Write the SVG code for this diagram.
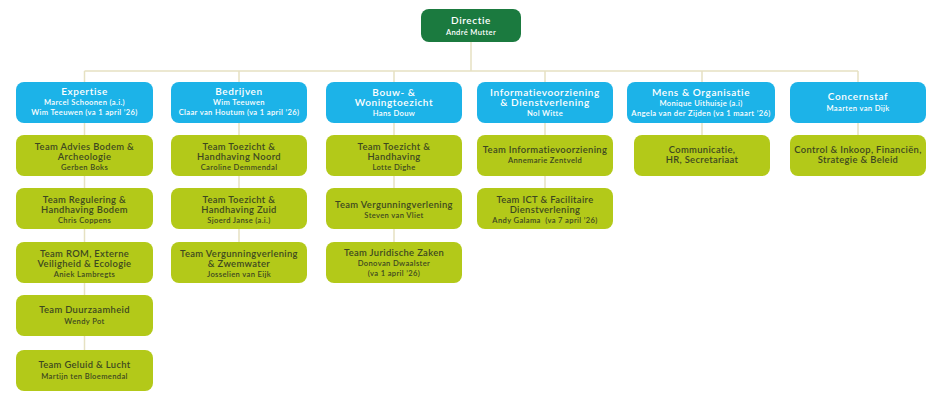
<svg xmlns="http://www.w3.org/2000/svg" width="940" height="415" viewBox="0 0 940 415">
<style>
.bg{fill:#ffffff}
.dir{fill:#1b7a3f}
.hd{fill:#1cb3e8}
.tm{fill:#b3c919}
.ln{stroke:#e6e1c2;stroke-width:1.5;fill:none}
text{font-family:Lato,"Open Sans","Liberation Sans",sans-serif;text-anchor:middle;font-weight:600}
.wt{fill:#ffffff;font-size:10px;letter-spacing:0.6px}
.ws{fill:#ffffff;font-size:7.6px;letter-spacing:0.35px}
.gt{fill:#3d4820;font-size:9.4px;letter-spacing:0.35px}
.gs{fill:#3d4820;font-size:7.6px;letter-spacing:0.35px}
</style>
<rect class="bg" x="0" y="0" width="940" height="415"/>
<g id="connectors">
<path class="ln" d="M471,42 V71 M84.5,71 H858"/>
<path class="ln" d="M84.5,71 V350"/>
<path class="ln" d="M239,71 V242"/>
<path class="ln" d="M394,71 V242"/>
<path class="ln" d="M545,71 V188"/>
<path class="ln" d="M702,71 V135"/>
<path class="ln" d="M858,71 V135"/>
</g>
<g id="directie">
<rect class="dir" x="421" y="9" width="100" height="33" rx="8"/>
<text class="wt" x="471" y="24">Directie</text>
<text class="ws" x="471" y="35">André Mutter</text>
</g>
<g id="expertise">
<rect class="hd" x="16" y="82" width="137" height="41" rx="8"/>
<text class="wt" x="84.5" y="95">Expertise</text>
<text class="ws" x="84.5" y="105">Marcel Schoonen (a.i.)</text>
<text class="ws" x="84.5" y="115">Wim Teeuwen (va 1 april ’26)</text>
</g>
<g id="bedrijven">
<rect class="hd" x="171" y="82" width="136" height="41" rx="8"/>
<text class="wt" x="239" y="95">Bedrijven</text>
<text class="ws" x="239" y="105">Wim Teeuwen</text>
<text class="ws" x="239" y="115">Claar van Houtum (va 1 april ’26)</text>
</g>
<g id="bouw">
<rect class="hd" x="326" y="82" width="136" height="41" rx="8"/>
<text class="wt" x="394" y="95.5">Bouw- &amp;</text>
<text class="wt" x="394" y="106">Woningtoezicht</text>
<text class="ws" x="394" y="116">Hans Douw</text>
</g>
<g id="informatie">
<rect class="hd" x="477" y="82" width="136" height="41" rx="8"/>
<text class="wt" x="545" y="95.5">Informatievoorziening</text>
<text class="wt" x="545" y="106">&amp; Dienstverlening</text>
<text class="ws" x="545" y="116">Nol Witte</text>
</g>
<g id="mens">
<rect class="hd" x="627" y="82" width="148" height="41" rx="8"/>
<text class="wt" x="701" y="96">Mens &amp; Organisatie</text>
<text class="ws" x="701" y="106">Monique Uithuisje (a.i)</text>
<text class="ws" x="701" y="116">Angela van der Zijden (va 1 maart ’26)</text>
</g>
<g id="concernstaf">
<rect class="hd" x="790" y="82" width="136" height="41" rx="8"/>
<text class="wt" x="858" y="100">Concernstaf</text>
<text class="ws" x="858" y="111">Maarten van Dijk</text>
</g>
<g id="team-advies">
<rect class="tm" x="16" y="135" width="137" height="41" rx="8"/>
<text class="gt" x="84.5" y="150">Team Advies Bodem &amp;</text>
<text class="gt" x="84.5" y="160">Archeologie</text>
<text class="gs" x="84.5" y="170">Gerben Boks</text>
</g>
<g id="team-regulering">
<rect class="tm" x="16" y="188" width="137" height="41" rx="8"/>
<text class="gt" x="84.5" y="203">Team Regulering &amp;</text>
<text class="gt" x="84.5" y="213">Handhaving Bodem</text>
<text class="gs" x="84.5" y="223">Chris Coppens</text>
</g>
<g id="team-rom">
<rect class="tm" x="16" y="242" width="137" height="41" rx="8"/>
<text class="gt" x="84.5" y="257">Team ROM, Externe</text>
<text class="gt" x="84.5" y="267">Veiligheid &amp; Ecologie</text>
<text class="gs" x="84.5" y="277">Aniek Lambregts</text>
</g>
<g id="team-duurzaamheid">
<rect class="tm" x="16" y="295" width="137" height="41" rx="8"/>
<text class="gt" x="84.5" y="313">Team Duurzaamheid</text>
<text class="gs" x="84.5" y="324">Wendy Pot</text>
</g>
<g id="team-geluid">
<rect class="tm" x="16" y="350" width="137" height="41" rx="8"/>
<text class="gt" x="84.5" y="368">Team Geluid &amp; Lucht</text>
<text class="gs" x="84.5" y="379">Martijn ten Bloemendal</text>
</g>
<g id="team-toezicht-noord">
<rect class="tm" x="171" y="135" width="136" height="41" rx="8"/>
<text class="gt" x="239" y="150">Team Toezicht &amp;</text>
<text class="gt" x="239" y="160">Handhaving Noord</text>
<text class="gs" x="239" y="170">Caroline Demmendal</text>
</g>
<g id="team-toezicht-zuid">
<rect class="tm" x="171" y="188" width="136" height="41" rx="8"/>
<text class="gt" x="239" y="203">Team Toezicht &amp;</text>
<text class="gt" x="239" y="213">Handhaving Zuid</text>
<text class="gs" x="239" y="223">Sjoerd Janse (a.i.)</text>
</g>
<g id="team-vergunning-zwemwater">
<rect class="tm" x="171" y="242" width="136" height="41" rx="8"/>
<text class="gt" x="239" y="257">Team Vergunningverlening</text>
<text class="gt" x="239" y="267">&amp; Zwemwater</text>
<text class="gs" x="239" y="277">Josselien van Eijk</text>
</g>
<g id="team-toezicht-handhaving">
<rect class="tm" x="326" y="135" width="136" height="41" rx="8"/>
<text class="gt" x="394" y="150">Team Toezicht &amp;</text>
<text class="gt" x="394" y="160">Handhaving</text>
<text class="gs" x="394" y="170">Lotte Dighe</text>
</g>
<g id="team-vergunning">
<rect class="tm" x="326" y="188" width="136" height="41" rx="8"/>
<text class="gt" x="394" y="208">Team Vergunningverlening</text>
<text class="gs" x="394" y="218">Steven van Vliet</text>
</g>
<g id="team-juridisch">
<rect class="tm" x="326" y="242" width="136" height="41" rx="8"/>
<text class="gt" x="394" y="256">Team Juridische Zaken</text>
<text class="gs" x="394" y="266">Donovan Dwaalster</text>
<text class="gs" x="394" y="276">(va 1 april ’26)</text>
</g>
<g id="team-informatievoorziening">
<rect class="tm" x="477" y="135" width="136" height="41" rx="8"/>
<text class="gt" x="545" y="153">Team Informatievoorziening</text>
<text class="gs" x="545" y="163">Annemarie Zentveld</text>
</g>
<g id="team-ict">
<rect class="tm" x="477" y="188" width="136" height="41" rx="8"/>
<text class="gt" x="545" y="203">Team ICT &amp; Facilitaire</text>
<text class="gt" x="545" y="213">Dienstverlening</text>
<text class="gs" x="545" y="223">Andy Galama&#160; (va 7 april ’26)</text>
</g>
<g id="team-communicatie">
<rect class="tm" x="634" y="135" width="136" height="41" rx="8"/>
<text class="gt" x="702" y="153">Communicatie,</text>
<text class="gt" x="702" y="163">HR, Secretariaat</text>
</g>
<g id="team-control">
<rect class="tm" x="790" y="135" width="136" height="41" rx="8"/>
<text class="gt" x="858" y="153">Control &amp; Inkoop, Financiën,</text>
<text class="gt" x="858" y="163">Strategie &amp; Beleid</text>
</g>
</svg>
